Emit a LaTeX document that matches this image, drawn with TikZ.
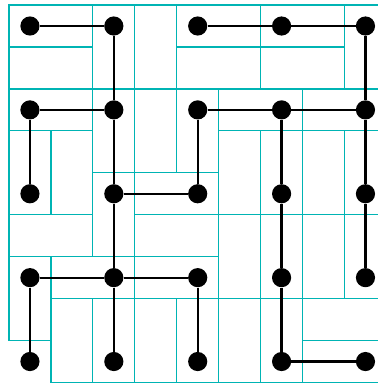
\documentclass[tikz,border=0pt]{standalone}
\usepackage{tikz}
\usetikzlibrary{
    arrows.meta,
    positioning,
    calc
}
\definecolor{tilecyan}{RGB}{0,180,180}
\tikzset{
    % --- Tree vertex (filled disc) ---
    dot/.style = {
        circle, fill=black,
        minimum size=13pt, inner sep=0pt
    },
    % --- Spanning tree edge ---
    tree edge/.style = {
        draw=black, line width=1.5pt
    },
    % --- Domino outline ---
    domino/.style = {
        draw=tilecyan, line width=0.8pt
    }
}
\begin{document}
\begin{tikzpicture}[x=2cm, y=-2cm]

\useasboundingbox (-0.357,-0.310) rectangle (4.143,4.256);

% ---------------------------------------------------------
% Dominoes (tree vertices)
% ---------------------------------------------------------
\draw[domino] (-0.25,-0.25) rectangle (0.75,0.25);
\draw[domino] (0.75,-0.25) rectangle (1.25,0.75);
\draw[domino] (1.75,-0.25) rectangle (2.75,0.25);
\draw[domino] (2.75,-0.25) rectangle (3.75,0.25);
\draw[domino] (3.75,-0.25) rectangle (4.25,0.75);
\draw[domino] (-0.25,0.75) rectangle (0.75,1.25);
\draw[domino] (0.75,0.75) rectangle (1.25,1.75);
\draw[domino] (1.75,0.75) rectangle (2.25,1.75);
\draw[domino] (2.25,0.75) rectangle (3.25,1.25);
\draw[domino] (3.25,0.75) rectangle (4.25,1.25);
\draw[domino] (-0.25,1.25) rectangle (0.25,2.25);
\draw[domino] (1.25,1.75) rectangle (2.25,2.25);
\draw[domino] (0.75,1.75) rectangle (1.25,2.75);
\draw[domino] (2.75,1.25) rectangle (3.25,2.25);
\draw[domino] (3.75,1.25) rectangle (4.25,2.25);
\draw[domino] (2.75,2.25) rectangle (3.25,3.25);
\draw[domino] (3.75,2.25) rectangle (4.25,3.25);
\draw[domino] (-0.25,2.75) rectangle (0.25,3.75);
\draw[domino] (0.25,2.75) rectangle (1.25,3.25);
\draw[domino] (1.25,2.75) rectangle (2.25,3.25);
\draw[domino] (0.75,3.25) rectangle (1.25,4.25);
\draw[domino] (1.75,3.25) rectangle (2.25,4.25);
\draw[domino] (2.75,3.25) rectangle (3.25,4.25);
\draw[domino] (3.25,3.75) rectangle (4.25,4.25);

% ---------------------------------------------------------
% Dominoes (dual tree vertices)
% ---------------------------------------------------------
\draw[domino] (-0.25,0.25) rectangle (0.75,0.75);
\draw[domino] (1.25,-0.25) rectangle (1.75,0.75);
\draw[domino] (1.75,0.25) rectangle (2.75,0.75);
\draw[domino] (2.75,0.25) rectangle (3.75,0.75);
\draw[domino] (0.25,1.25) rectangle (0.75,2.25);
\draw[domino] (1.25,0.75) rectangle (1.75,1.75);
\draw[domino] (2.25,1.25) rectangle (2.75,2.25);
\draw[domino] (3.25,1.25) rectangle (3.75,2.25);
\draw[domino] (-0.25,2.25) rectangle (0.75,2.75);
\draw[domino] (1.25,2.25) rectangle (2.25,2.75);
\draw[domino] (2.25,2.25) rectangle (2.75,3.25);
\draw[domino] (3.25,2.25) rectangle (3.75,3.25);
\draw[domino] (0.25,3.25) rectangle (0.75,4.25);
\draw[domino] (1.25,3.25) rectangle (1.75,4.25);
\draw[domino] (2.25,3.25) rectangle (2.75,4.25);
\draw[domino] (3.25,3.25) rectangle (4.25,3.75);

% ---------------------------------------------------------
% Tree vertices (5 x 5 grid)
% ---------------------------------------------------------
\foreach \i in {0,...,4} {
    \foreach \j in {0,...,4} {
        \node[dot] (v\i\j) at (\i,\j) {};
    }
}

% ---------------------------------------------------------
% Spanning tree edges
% ---------------------------------------------------------
\draw[tree edge] (v00) -- (v10) -- (v11);
\draw[tree edge] (v20) -- (v30) -- (v40) -- (v41);
\draw[tree edge] (v01) -- (v11);
\draw[tree edge] (v01) -- (v02);
\draw[tree edge] (v11) -- (v12);
\draw[tree edge] (v21) -- (v31) -- (v41);
\draw[tree edge] (v21) -- (v22);
\draw[tree edge] (v31) -- (v32);
\draw[tree edge] (v41) -- (v42) -- (v43);
\draw[tree edge] (v12) -- (v22);
\draw[tree edge] (v12) -- (v13);
\draw[tree edge] (v32) -- (v33) -- (v34);
\draw[tree edge] (v03) -- (v13) -- (v23);
\draw[tree edge] (v03) -- (v04);
\draw[tree edge] (v13) -- (v14);
\draw[tree edge] (v23) -- (v24);
\draw[tree edge] (v34) -- (v44);

\end{tikzpicture}
\end{document}
